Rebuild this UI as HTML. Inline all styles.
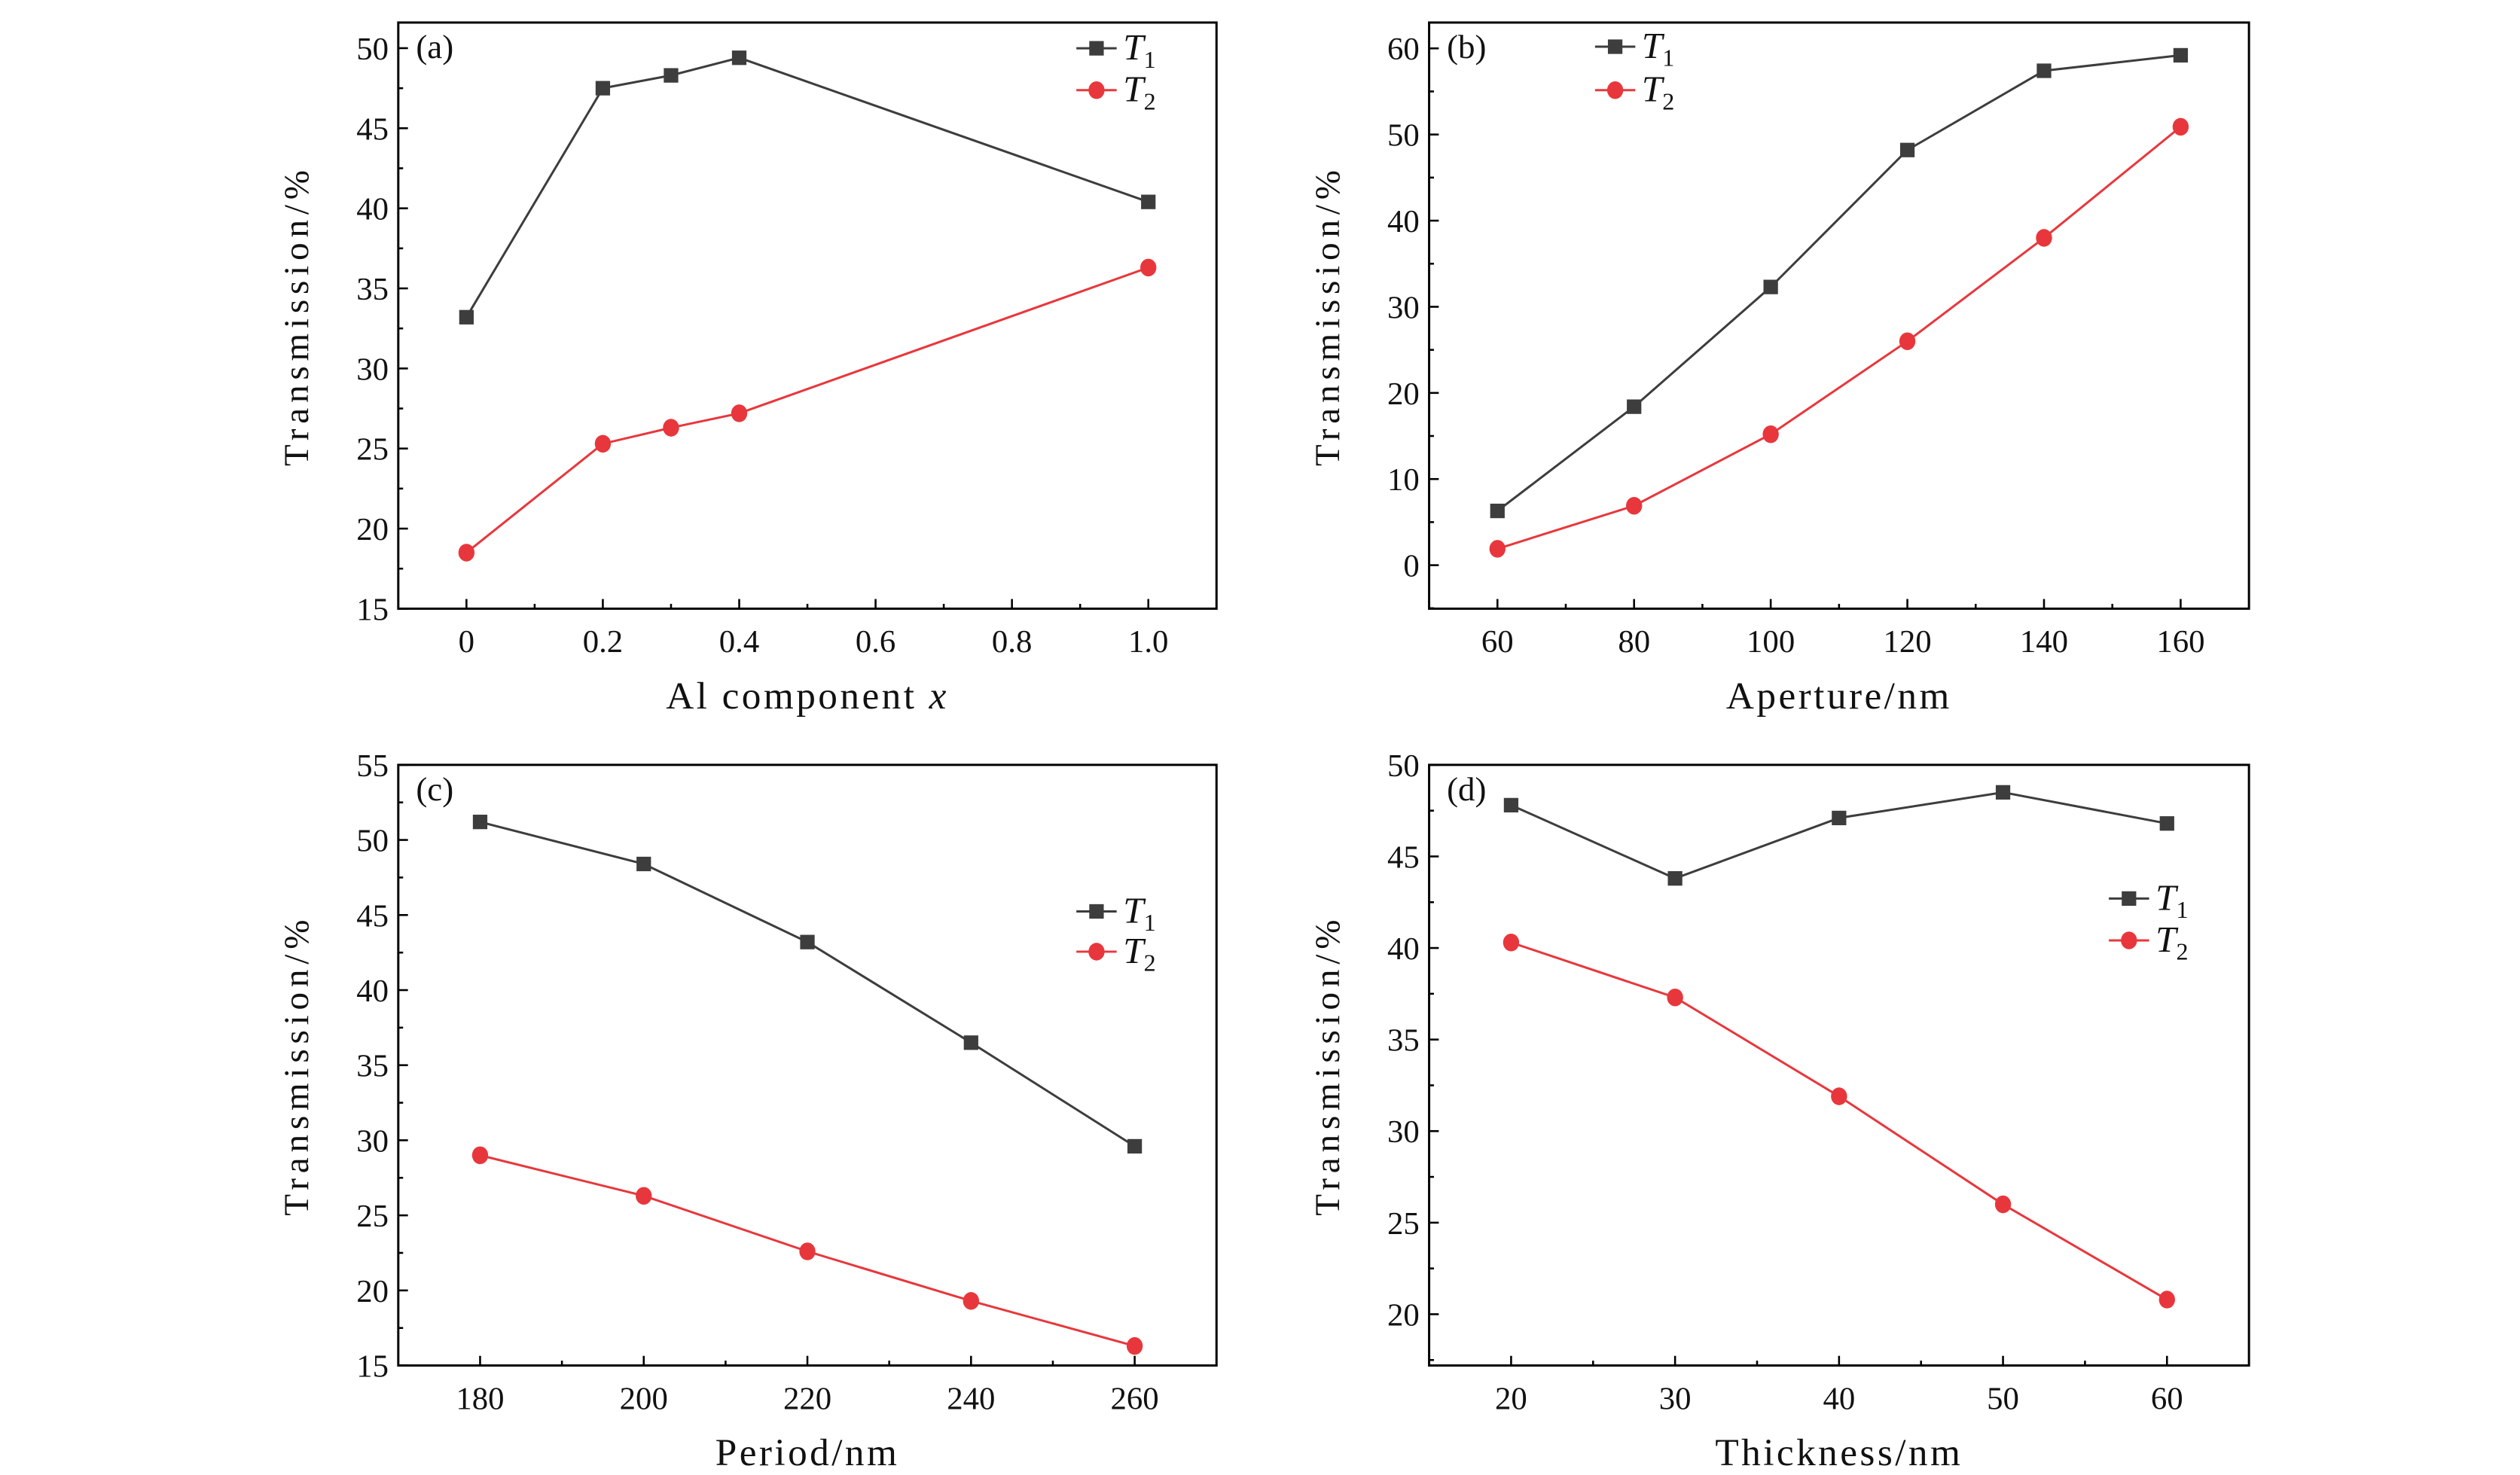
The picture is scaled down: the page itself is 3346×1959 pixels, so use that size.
<!DOCTYPE html>
<html><head><meta charset="utf-8">
<style>
html,body{margin:0;padding:0;background:#fff;}
svg{display:block;}
text{font-family:"Liberation Serif",serif;fill:#111;}
</style></head>
<body>
<svg id="fig" width="3346" height="1959" viewBox="0 0 1564 916" xmlns="http://www.w3.org/2000/svg"></svg>
<script>
// Panel (a)
const aX = [0, 0.2, 0.3, 0.4, 1.0];
const aT1 = [33.2, 47.5, 48.3, 49.4, 40.4];
const aT2 = [18.5, 25.3, 26.3, 27.2, 36.3];
const aXTicks = [0, 0.2, 0.4, 0.6, 0.8, 1.0];
const aXTickLabels = ["0", "0.2", "0.4", "0.6", "0.8", "1.0"];
const aYTicks = [15, 20, 25, 30, 35, 40, 45, 50];
// Panel (b)
const bX = [60, 80, 100, 120, 140, 160];
const bT1 = [6.3, 18.4, 32.3, 48.2, 57.4, 59.2];
const bT2 = [1.9, 6.9, 15.2, 26.0, 38.0, 50.9];
const bXTicks = [60, 80, 100, 120, 140, 160];
const bYTicks = [0, 10, 20, 30, 40, 50, 60];
// Panel (c)
const cX = [180, 200, 220, 240, 260];
const cT1 = [51.2, 48.4, 43.2, 36.5, 29.6];
const cT2 = [29.0, 26.3, 22.6, 19.3, 16.3];
const cXTicks = [180, 200, 220, 240, 260];
const cYTicks = [15, 20, 25, 30, 35, 40, 45, 50, 55];
// Panel (d)
const dX = [20, 30, 40, 50, 60];
const dT1 = [47.8, 43.8, 47.1, 48.5, 46.8];
const dT2 = [40.3, 37.3, 31.9, 26.0, 20.8];
const dXTicks = [20, 30, 40, 50, 60];
const dYTicks = [20, 25, 30, 35, 40, 45, 50];

const NS = "http://www.w3.org/2000/svg";
const svg = document.getElementById("fig");
function mk(tag, attrs, parent){
  const e = document.createElementNS(NS, tag);
  for (const k in attrs) e.setAttribute(k, attrs[k]);
  (parent||svg).appendChild(e);
  return e;
}
const C1 = "#3d3d3d", C2 = "#e8373c";

function panel(o){
  const g = mk("g", {});
  
  
  const sx = v => o.L + (v - o.xd[0]) / (o.xd[1] - o.xd[0]) * (o.R - o.L);
  const sy = v => o.B - (v - o.yd[0]) / (o.yd[1] - o.yd[0]) * (o.B - o.T);
  const fr = mk("rect", {x:o.L, y:o.T, width:o.R-o.L, height:o.B-o.T, fill:"none", stroke:"#000", "stroke-width":1.4}, g);
  
  
  o.xt.forEach((v,i)=>{
    const x = sx(v);
    mk("line",{x1:x,y1:o.B,x2:x,y2:o.B-6,stroke:"#000","stroke-width":1.2},g);
    const t = mk("text",{x:x,y:o.B+27,"text-anchor":"middle","font-size":20},g);
    t.textContent = o.xl ? o.xl[i] : String(v);
    
    
  });
  for (let k=0;k<o.xt.length-1;k++){
    const x = sx((o.xt[k]+o.xt[k+1])/2);
    mk("line",{x1:x,y1:o.B,x2:x,y2:o.B-3,stroke:"#000","stroke-width":1.2},g);
  }
  o.yt.forEach(v=>{
    const y = sy(v);
    mk("line",{x1:o.L,y1:y,x2:o.L+6,y2:y,stroke:"#000","stroke-width":1.2},g);
    const t = mk("text",{x:o.L-6,y:y+7,"text-anchor":"end","font-size":20},g);
    t.textContent = String(v);
    
    
  });
  const step = o.yt[1]-o.yt[0];
  for (let v=o.yt[0]-step/2; v<=o.yd[1]; v+=step){
    if (v < o.yd[0]) continue;
    const y = sy(v);
    mk("line",{x1:o.L,y1:y,x2:o.L+3,y2:y,stroke:"#000","stroke-width":1.2},g);
  }
  const xt = mk("text",{x:(o.L+o.R)/2,y:o.B+62,"text-anchor":"middle","font-size":24,"letter-spacing":"1.6"},g);
  
  
  if (o.id==="a"){ xt.innerHTML = 'Al component <tspan font-style="italic">x</tspan>'; }
  else xt.textContent = o.xtitle;
  const yc = (o.T+o.B)/2;
  const yt = mk("text",{x:o.L-56,y:yc,"text-anchor":"middle","font-size":22,"letter-spacing":"3.2",transform:`rotate(-90 ${o.L-56} ${yc})`},g);
  yt.textContent = "Transmission/%";
  
  
  const pl = mk("text",{x:o.L+11,y:o.T+22,"font-size":21},g);
  pl.textContent = "(" + o.id + ")";
  
  
  [[o.t1,C1,"sq","t1"],[o.t2,C2,"ci","t2"]].forEach(([vals,col,shape,nm])=>{
    const pts = o.x.map((v,i)=>sx(v)+","+sy(vals[i])).join(" ");
    const pl2 = mk("polyline",{points:pts,fill:"none",stroke:col,"stroke-width":1.4},g);
    
    
    o.x.forEach((v,i)=>{
      let m;
      if (shape==="sq") m = mk("rect",{x:sx(v)-4.5,y:sy(vals[i])-4.5,width:9,height:9,fill:col},g);
      else m = mk("ellipse",{cx:sx(v),cy:sy(vals[i]),rx:5,ry:5.5,fill:col},g);
      
      
    });
  });
  [[o.lg[1],C1,"sq","1"],[o.lg[2],C2,"ci","2"]].forEach(([ly,col,shape,n])=>{
    const lx = o.lg[0];
    const lg = mk("g",{},g);
    
    
    mk("line",{x1:lx,y1:ly,x2:lx+25,y2:ly,stroke:col,"stroke-width":1.4},lg);
    if (shape==="sq") mk("rect",{x:lx+8,y:ly-4.5,width:9,height:9,fill:col},lg);
    else mk("ellipse",{cx:lx+12.5,cy:ly,rx:5,ry:5.5,fill:col},lg);
    const t = mk("text",{x:lx+29,y:ly+7,"font-size":23},lg);
    t.innerHTML = '<tspan font-style="italic">T</tspan><tspan font-size="15" dy="5">' + n + '</tspan>';
  });
}

panel({id:"a",L:247,R:755,T:14,B:378,xd:[-0.1,1.1],yd:[15,51.6],x:aX,t1:aT1,t2:aT2,xt:aXTicks,xl:aXTickLabels,yt:aYTicks,lg:[668,30,56]});
panel({id:"b",L:887,R:1396,T:14,B:378,xd:[50,170],yd:[-5.05,63],x:bX,t1:bT1,t2:bT2,xt:bXTicks,yt:bYTicks,xtitle:"Aperture/nm",lg:[990,29,56]});
panel({id:"c",L:247,R:755,T:475,B:848,xd:[170,270],yd:[15,55],x:cX,t1:cT1,t2:cT2,xt:cXTicks,yt:cYTicks,xtitle:"Period/nm",lg:[668,566,591]});
panel({id:"d",L:887,R:1396,T:475,B:848,xd:[15,65],yd:[17.2,50],x:dX,t1:dT1,t2:dT2,xt:dXTicks,yt:dYTicks,xtitle:"Thickness/nm",lg:[1309,558,584]});
</script>
</body></html>
